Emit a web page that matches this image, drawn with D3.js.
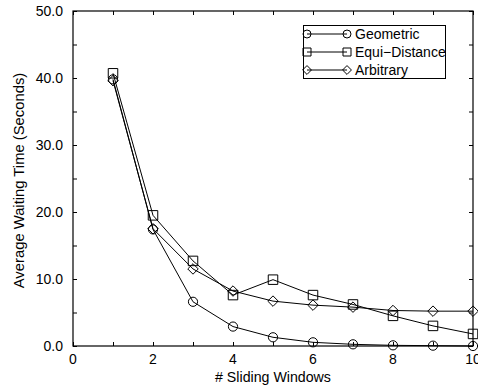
<!DOCTYPE html>
<html>
<head>
<meta charset="utf-8">
<script src="https://cdn.jsdelivr.net/npm/d3@7"></script>
<style>
  html, body { margin: 0; padding: 0; background: #fff; }
  svg { display: block; font-family: "Liberation Sans", Arial, Helvetica, sans-serif; }
</style>
</head>
<body>
<svg id="chart" width="478" height="389"></svg>
<script>
// Number of sliding windows on the x axis
const windows = [1, 2, 3, 4, 5, 6, 7, 8, 9, 10];

// Average waiting time (seconds) per partitioning scheme
const geometric    = [39.8, 17.4, 6.6, 2.9, 1.3, 0.55, 0.25, 0.1, 0.05, 0.0];
const equiDistance = [40.7, 19.5, 12.7, 7.6, 9.9, 7.6, 6.2, 4.5, 3.0, 1.8];
const arbitrary    = [39.6, 17.5, 11.5, 8.2, 6.7, 6.1, 5.8, 5.3, 5.2, 5.2];

const seriesNames = ["Geometric", "Equi\u2212Distance", "Arbitrary"];
const seriesShapes = ["circle", "square", "diamond"];

const xTickValues = [0, 2, 4, 6, 8, 10];
const yTickValues = [0, 10, 20, 30, 40, 50];

const series = [geometric, equiDistance, arbitrary].map((vals, i) => ({
  name: seriesNames[i],
  shape: seriesShapes[i],
  points: windows.map((w, j) => ({ x: w, y: vals[j] }))
}));

const svg = d3.select("#chart");
const margin = { left: 73, right: 5, top: 11, bottom: 43 };
const W = 478, H = 389;
const x = d3.scaleLinear().domain([0, 10]).range([margin.left, W - margin.right]);
const y = d3.scaleLinear().domain([0, 50]).range([H - margin.bottom, margin.top]);

const tickLen = 4;
const fontSize = 14;

// Inward ticks on all four sides
const xMinor = d3.range(0, 11, 1);
const yMinor = d3.range(0, 51, 5);

svg.append("g").attr("transform", `translate(0,${y(0)})`)
  .call(d3.axisBottom(x).tickValues(xMinor).tickSizeInner(-tickLen).tickSizeOuter(0).tickFormat(""));
svg.append("g").attr("transform", `translate(0,${y(50)})`)
  .call(d3.axisTop(x).tickValues(xMinor).tickSizeInner(-tickLen).tickSizeOuter(0).tickFormat(""));
svg.append("g").attr("transform", `translate(${x(0)},0)`)
  .call(d3.axisLeft(y).tickValues(yMinor).tickSizeInner(-tickLen).tickSizeOuter(0).tickFormat(""));
svg.append("g").attr("transform", `translate(${x(10)},0)`)
  .call(d3.axisRight(y).tickValues(yMinor).tickSizeInner(-tickLen).tickSizeOuter(0).tickFormat(""));

svg.selectAll(".domain").remove();
svg.selectAll(".tick line").attr("stroke", "#000").attr("stroke-width", 1);

// Frame
svg.append("rect")
  .attr("x", x(0)).attr("y", y(50))
  .attr("width", x(10) - x(0)).attr("height", y(0) - y(50))
  .attr("fill", "none").attr("stroke", "#000").attr("stroke-width", 1.2);

// Tick labels
svg.append("g").selectAll("text").data(xTickValues).join("text")
  .attr("x", d => x(d)).attr("y", y(0) + 17.5)
  .attr("text-anchor", "middle").attr("font-size", fontSize)
  .text(d => d);
svg.append("g").selectAll("text").data(yTickValues).join("text")
  .attr("x", x(0) - 10).attr("y", d => y(d) + 5)
  .attr("text-anchor", "end").attr("font-size", fontSize)
  .text(d => d3.format(".1f")(d));

// Axis titles
svg.append("text")
  .attr("x", (x(0) + x(10)) / 2).attr("y", 382)
  .attr("text-anchor", "middle").attr("font-size", 14.2)
  .text("# Sliding Windows");
svg.append("text")
  .attr("transform", `translate(23.5,${(y(0) + y(50)) / 2 + 2}) rotate(-90)`)
  .attr("text-anchor", "middle").attr("font-size", 14.8)
  .text("Average Waiting Time (Seconds)");

// Marker symbols
const symbolFor = {
  circle: d3.symbol().type(d3.symbolCircle).size(Math.PI * 4.6 * 4.6),
  square: d3.symbol().type(d3.symbolSquare).size(9.5 * 9.5),
  diamond: d3.symbol().type(d3.symbolDiamond2).size(70)
};

const line = d3.line().x(d => x(d.x)).y(d => y(d.y));

const plot = svg.append("g");
series.forEach(s => {
  plot.append("path").datum(s.points)
    .attr("d", line).attr("fill", "none")
    .attr("stroke", "#000").attr("stroke-width", 1);
  plot.append("g").selectAll("path").data(s.points).join("path")
    .attr("transform", d => `translate(${x(d.x)},${y(d.y)})`)
    .attr("d", symbolFor[s.shape]())
    .attr("fill", "none").attr("stroke", "#000").attr("stroke-width", 1);
});

// Legend
const lg = svg.append("g");
lg.append("rect").attr("x", 303.5).attr("y", 25.5).attr("width", 142).attr("height", 53)
  .attr("fill", "#fff").attr("stroke", "#000").attr("stroke-width", 1);
series.forEach((s, i) => {
  const ly = 34 + i * 18;
  lg.append("line").attr("x1", 307).attr("x2", 347).attr("y1", ly).attr("y2", ly)
    .attr("stroke", "#000").attr("stroke-width", 1);
  [307, 347].forEach(lx => {
    lg.append("path").attr("transform", `translate(${lx},${ly})`)
      .attr("d", d3.symbol().type(
        s.shape === "circle" ? d3.symbolCircle : s.shape === "square" ? d3.symbolSquare : d3.symbolDiamond2
      ).size(s.shape === "diamond" ? 50 : s.shape === "square" ? 64 : Math.PI * 16)())
      .attr("fill", "none").attr("stroke", "#000").attr("stroke-width", 1);
  });
  lg.append("text").attr("x", 355).attr("y", ly + 5)
    .attr("font-size", fontSize).text(s.name);
});
</script>
</body>
</html>
